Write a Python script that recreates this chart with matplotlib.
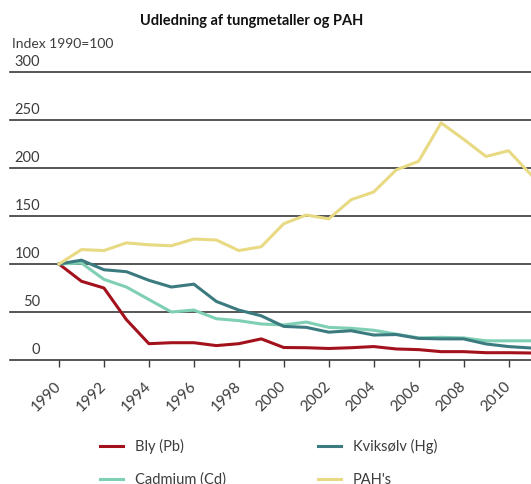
import matplotlib
matplotlib.use('Agg')
import matplotlib.pyplot as plt
import matplotlib.transforms as mtransforms

plt.rcParams['font.family'] = ['Lato', 'DejaVu Sans']

# data (index 1990=100)
years = list(range(1990, 2012))
bly = [100, 82, 75, 42, 17, 18, 18, 15, 17, 22, 13, 12.8, 12, 12.8, 14,
       11.5, 10.8, 8.7, 8.7, 7.6, 7.6, 7.3]
kviksolv = [100, 104, 94, 92, 83, 76, 79, 61, 52, 46, 35, 34, 29, 30.5, 26,
            26.5, 22.5, 22, 22, 16.7, 14, 12.5]
cadmium = [100, 101, 84, 76, 63, 50, 52, 43, 41, 37.5, 36.5, 39.5, 34, 33, 31,
           27, 23, 23.6, 23, 20, 20, 20]
pah = [100, 115, 114, 122, 120, 119, 126, 125, 114, 118, 142, 151, 147, 167,
       175, 198, 207, 247, 230, 212, 218, 193]
yticks = [0, 50, 100, 150, 200, 250, 300]
xticks = list(range(1990, 2012, 2))

W, H = 531, 484
fig = plt.figure(figsize=(W / 100, H / 100), dpi=100)
ax = fig.add_axes([10 / W, (H - 360) / H, (W - 10) / W, 288 / H])

ax.plot(years, bly, color='#a3121c', lw=2.2, label='Bly (Pb)')
ax.plot(years, cadmium, color='#7fcfb5', lw=2.2, label='Cadmium (Cd)')
ax.plot(years, kviksolv, color='#3b7b80', lw=2.2, label='Kviksølv (Hg)')
ax.plot(years, pah, color='#e8d983', lw=2.2, label="PAH's")

ax.set_xlim(1987.82, 2011)
ax.set_ylim(0, 300)

gridc = '#3a3a3a'
for s in ['top', 'right', 'left']:
    ax.spines[s].set_visible(False)
ax.spines['bottom'].set_color(gridc)
ax.spines['bottom'].set_linewidth(1.2)
for v in yticks[1:]:
    ax.axhline(v, color=gridc, lw=1.2, zorder=0, clip_on=False)

txtc = '#3c3c3c'
ax.set_yticks([])
trans = mtransforms.blended_transform_factory(ax.transAxes, ax.transData)
off = mtransforms.offset_copy(trans, fig=fig, y=2.5, units='points')
for v in yticks:
    ax.text(30 / 521, v, str(v), transform=off, ha='right', va='bottom',
            fontsize=10.5, color=txtc)

ax.set_xticks(xticks)
ax.set_xticklabels([str(x) for x in xticks], rotation=45, ha='right',
                   va='center', rotation_mode='anchor', fontsize=11,
                   color=txtc)
ax.tick_params(axis='x', length=5, width=1, color=gridc, pad=12)

fig.text(252 / W, 1 - 21 / H, 'Udledning af tungmetaller og PAH',
         ha='center', va='center', fontsize=10.5, fontweight='bold',
         color='#111111')
fig.text(12 / W, 1 - 44 / H, 'Index 1990=100', ha='left', va='center',
         fontsize=10, color=txtc)

handles, labels = ax.get_legend_handles_labels()
leg = fig.legend(handles, labels, ncol=2, loc='center left',
                 bbox_to_anchor=(100 / W, 1 - 463 / H), frameon=False,
                 borderpad=0, borderaxespad=0,
                 fontsize=10.5, handlelength=1.6, handletextpad=0.8,
                 columnspacing=6.3, labelspacing=1.3)
for t in leg.get_texts():
    t.set_color(txtc)

fig.savefig('out.png', dpi=100)
